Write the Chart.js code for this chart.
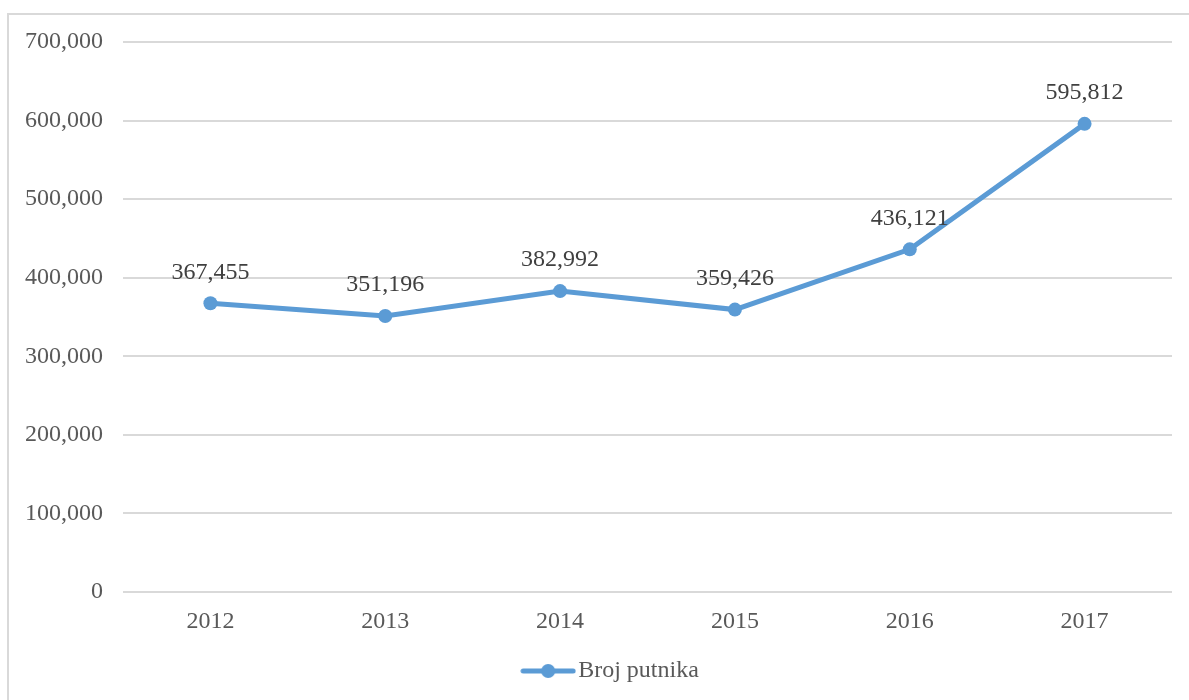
<!DOCTYPE html>
<html>
<head>
<meta charset="utf-8">
<script src="https://cdn.jsdelivr.net/npm/chart.js@4"></script>
<style>
    body { margin: 0; background: #fff; }
    #frame {
        position: absolute; left: 7px; top: 13px;
        width: 1182px; height: 687px;
        border-left: 2px solid #d9d9d9; border-top: 2px solid #d9d9d9;
        box-sizing: border-box;
    }
    #frame canvas { display: block; }
</style>
</head>
<body>
<div id="frame"><canvas id="passengerChart" width="1180" height="685"></canvas></div>
<script>
// Chart data
const years = ['2012', '2013', '2014', '2015', '2016', '2017'];
const passengers = [367455, 351196, 382992, 359426, 436121, 595812];
const seriesName = 'Broj putnika';
const yTicks = [0, 100000, 200000, 300000, 400000, 500000, 600000, 700000];

const blue = '#5B9BD5';
const fontFamily = '"Liberation Serif", "Times New Roman", serif';

function formatNumber(v) {
    return v.toLocaleString('en-US');
}

// Legend marker: line with a dot
function legendMarker() {
    const c = document.createElement('canvas');
    c.width = 56; c.height = 16;
    const ctx = c.getContext('2d');
    ctx.strokeStyle = blue;
    ctx.lineWidth = 5;
    ctx.lineCap = 'round';
    ctx.beginPath();
    ctx.moveTo(3, 8);
    ctx.lineTo(53, 8);
    ctx.stroke();
    ctx.fillStyle = blue;
    ctx.beginPath();
    ctx.arc(28, 8, 7, 0, Math.PI * 2);
    ctx.fill();
    return c;
}

// Value labels above points
const valueLabels = {
    id: 'valueLabels',
    afterLayout(chart) {
        // legend sits a bit right of centre in the original
        chart.legend.left += 48;
    },
    afterDatasetsDraw(chart) {
        const ctx = chart.ctx;
        const meta = chart.getDatasetMeta(0);
        ctx.save();
        ctx.font = '24px ' + fontFamily;
        ctx.fillStyle = '#404040';
        ctx.textAlign = 'center';
        ctx.textBaseline = 'middle';
        meta.data.forEach((pt, i) => {
            ctx.fillText(formatNumber(chart.data.datasets[0].data[i]), pt.x, pt.y - 31);
        });
        ctx.restore();
    }
};

const ctx = document.getElementById('passengerChart').getContext('2d');
new Chart(ctx, {
    type: 'line',
    data: {
        labels: years,
        datasets: [{
            label: seriesName,
            data: passengers,
            borderColor: blue,
            backgroundColor: blue,
            borderWidth: 5,
            pointRadius: 7,
            pointHoverRadius: 7,
            pointBackgroundColor: blue,
            pointBorderWidth: 0,
            pointStyle: 'circle',
            tension: 0
        }]
    },
    options: {
        responsive: false,
        animation: false,
        layout: { padding: { left: 0, right: 17, top: 27, bottom: 7 } },
        plugins: {
            legend: {
                position: 'bottom',
                labels: {
                    usePointStyle: true,
                    pointStyle: legendMarker(),
                    pointStyleWidth: 36,
                    color: '#595959',
                    font: { family: fontFamily, size: 24 },
                    padding: 6
                }
            },
            tooltip: { enabled: false }
        },
        scales: {
            x: {
                offset: true,
                grid: { display: false },
                border: { display: false },
                ticks: { color: '#595959', font: { family: fontFamily, size: 24 }, padding: 7 },
                afterFit: scale => { scale.height = 61; }
            },
            y: {
                min: 0,
                max: 700000,
                afterBuildTicks: scale => { scale.ticks = yTicks.map(v => ({ value: v })); },
                grid: { color: '#d9d9d9', lineWidth: 2, drawTicks: false },
                border: { display: false },
                ticks: {
                    color: '#595959',
                    font: { family: fontFamily, size: 24 },
                    padding: 20,
                    callback: v => formatNumber(v)
                },
                afterFit: scale => {
                    scale.width = 114;
                    scale.paddingTop = 0;
                    scale.paddingBottom = 0;
                }
            }
        }
    },
    plugins: [valueLabels]
});
</script>
</body>
</html>
